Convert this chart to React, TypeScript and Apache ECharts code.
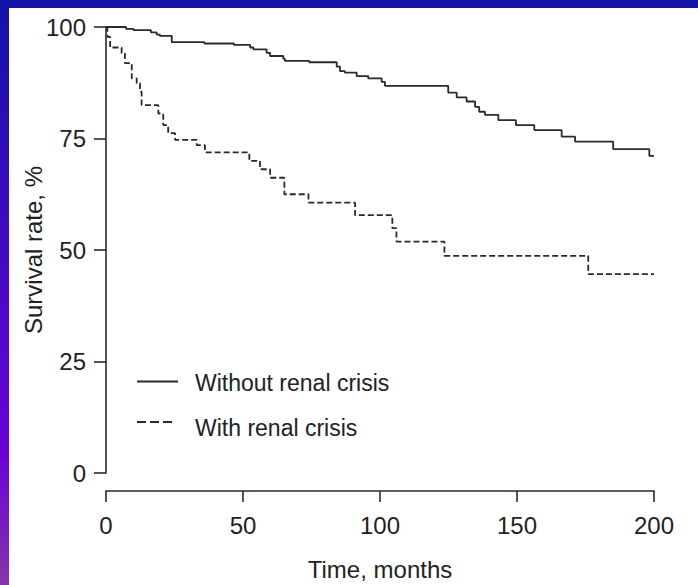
import React, { useEffect, useRef } from "react";
import * as echarts from "echarts";

// Kaplan-Meier steps: time (months) at which survival (%) changes
const timesWithout = [0, 7.3, 10, 16.4, 18.5, 19.7, 24, 35.9, 46.7, 52.6, 53.8, 58.6, 59.9, 64.7, 65.3, 74.2, 84.2, 85.4, 87.2, 91.5, 95.7, 100.6, 101.8, 124.9, 128, 131.6, 134.7, 136.2, 138.3, 143.2, 149.6, 156.3, 166.3, 171.2, 185.1, 198.3, 200];
const survivalWithout = [100, 99.6, 99.3, 98.8, 98.3, 98.0, 96.6, 96.3, 96.0, 95.4, 95.0, 94.2, 93.5, 92.9, 92.4, 92.1, 91.1, 90.1, 89.75, 89.0, 88.5, 87.7, 86.8, 85.3, 84.2, 83.3, 82.1, 81.0, 80.3, 79.1, 78.0, 76.9, 75.4, 74.3, 72.6, 71.1, 71.1];

const timesWith = [0, 0.5, 1.5, 5.7, 6.9, 9.4, 11.2, 12.4, 13, 19.1, 20.9, 22.7, 25.2, 33.1, 36.1, 52.3, 56.2, 59.9, 65.1, 73.9, 90.9, 104.5, 106, 123.5, 176, 200];
const survivalWith = [100, 97.8, 95.4, 94.1, 91.9, 88.5, 87.4, 85.5, 82.5, 80.6, 78.0, 76.2, 74.7, 73.5, 71.9, 70.0, 68.1, 66.2, 62.5, 60.6, 57.8, 54.9, 51.9, 48.7, 44.6, 44.6];

const seriesNames = ["Without renal crisis", "With renal crisis"];
const xTicks = { min: 0, max: 200, interval: 50 };
const yTicks = { min: 0, max: 100, interval: 25 };
const xAxisTitle = "Time, months";
const yAxisTitle = "Survival rate, %";

const FONT = "'Liberation Sans', Arial, Helvetica, sans-serif";
const INK = "#2a2a2a";

export default function App() {
  const ref = useRef<HTMLDivElement>(null);
  useEffect(() => {
    if (!ref.current) return;
    const chart = echarts.init(ref.current, undefined, { renderer: "svg" });
    const withoutData = timesWithout.map((t, i) => [t, survivalWithout[i]]);
    const withData = timesWith.map((t, i) => [t, survivalWith[i]]);
    chart.setOption({
      animation: false,
      backgroundColor: "#ffffff",
      grid: { left: 106, top: 27, width: 548, height: 446, containLabel: false },
      xAxis: {
        type: "value",
        min: xTicks.min,
        max: xTicks.max,
        interval: xTicks.interval,
        offset: 18,
        splitLine: { show: false },
        axisLine: { show: true, onZero: false, lineStyle: { color: INK, width: 1.6 } },
        axisTick: { show: true, length: 11, lineStyle: { color: INK, width: 1.6 } },
        axisLabel: { fontSize: 24, color: "#222", margin: 22, fontFamily: FONT },
      },
      yAxis: {
        type: "value",
        min: yTicks.min,
        max: yTicks.max,
        interval: yTicks.interval,
        splitLine: { show: false },
        axisLine: { show: true, onZero: false, lineStyle: { color: INK, width: 1.6 } },
        axisTick: { show: true, length: 12, lineStyle: { color: INK, width: 1.6 } },
        axisLabel: { fontSize: 24, color: "#222", margin: 20, fontFamily: FONT },
      },
      series: [
        {
          name: seriesNames[0],
          type: "line",
          step: "end",
          data: withoutData,
          symbol: "none",
          clip: false,
          lineStyle: { color: INK, width: 1.8, type: "solid" },
        },
        {
          name: seriesNames[1],
          type: "line",
          step: "end",
          data: withData,
          symbol: "none",
          clip: false,
          lineStyle: { color: INK, width: 1.8, type: [6, 3] },
        },
      ],
      graphic: [
        {
          type: "rect",
          z: -10,
          silent: true,
          shape: { x: 0, y: 0, width: 698, height: 585 },
          style: {
            fill: new echarts.graphic.LinearGradient(0, 0, 0, 1, [
              { offset: 0, color: "#1313a8" },
              { offset: 0.78, color: "#6a02d8" },
              { offset: 1, color: "#8636a8" },
            ]),
          },
        },
        {
          type: "rect",
          z: -9,
          silent: true,
          shape: { x: 9, y: 8, width: 689, height: 577 },
          style: { fill: "#ffffff" },
        },
        {
          type: "text",
          x: 380,
          y: 569,
          style: { text: xAxisTitle, font: `24px ${FONT}`, fill: "#222", textAlign: "center", textVerticalAlign: "middle" },
        },
        {
          type: "text",
          x: 33,
          y: 250,
          rotation: Math.PI / 2,
          style: { text: yAxisTitle, font: `24px ${FONT}`, fill: "#222", textAlign: "center", textVerticalAlign: "middle" },
        },
        {
          type: "line",
          shape: { x1: 137, y1: 381.5, x2: 178, y2: 381.5 },
          style: { stroke: INK, lineWidth: 1.8 },
        },
        {
          type: "text",
          x: 195,
          y: 382.5,
          style: { text: seriesNames[0], font: `23px ${FONT}`, fill: "#222", textAlign: "left", textVerticalAlign: "middle" },
        },
        {
          type: "line",
          shape: { x1: 137, y1: 422, x2: 172, y2: 422 },
          style: { stroke: INK, lineWidth: 1.8, lineDash: [9, 4] },
        },
        {
          type: "text",
          x: 195,
          y: 428,
          style: { text: seriesNames[1], font: `23px ${FONT}`, fill: "#222", textAlign: "left", textVerticalAlign: "middle" },
        },
      ],
    });
    return () => chart.dispose();
  }, []);
  return (
    <div
      ref={ref}
      style={{ position: "fixed", left: 0, top: 0, width: 698, height: 585 }}
    />
  );
}
